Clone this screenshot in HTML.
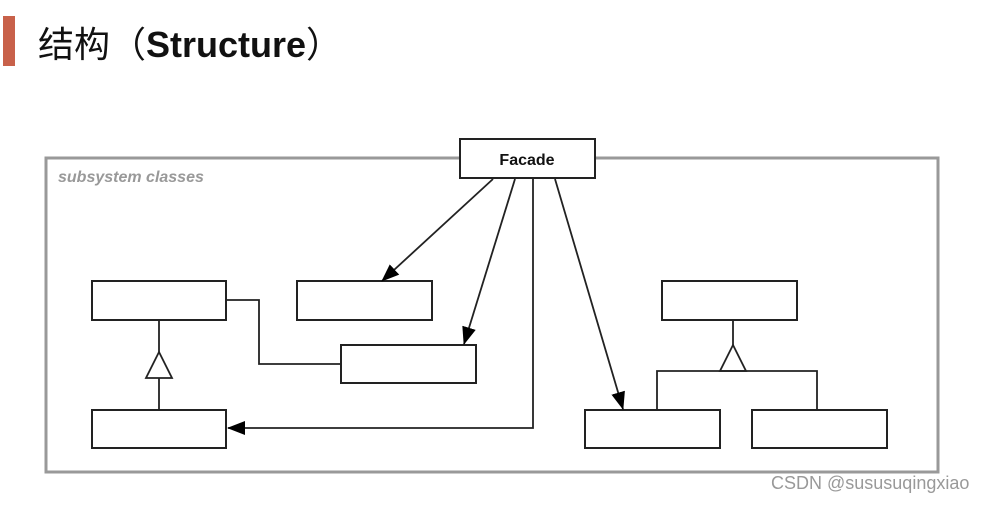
<!DOCTYPE html>
<html><head><meta charset="utf-8"><style>
body{margin:0;width:997px;height:507px;background:#fff;overflow:hidden;position:relative;font-family:"Liberation Sans","Noto Sans CJK SC",sans-serif}
.bar{position:absolute;left:3px;top:16px;width:12px;height:50px;background:#c8614a}
.t{position:absolute;left:38px;top:20px;font-size:36px;color:#111;line-height:50px}
.t b{font-weight:bold}
.wm{position:absolute;left:771px;top:473px;font-size:18px;color:#999;white-space:nowrap}
</style></head><body>
<div class="bar"></div>
<div class="t">结构（<b>Structure</b>）</div>
<svg width="997" height="507" style="position:absolute;left:0;top:0">
<defs>
<marker id="b" markerWidth="18" markerHeight="18" refX="17" refY="9" orient="auto" markerUnits="userSpaceOnUse" viewBox="0 0 18 18"><path d="M0,2 L18,9 L0,16z" fill="#000"/></marker></defs>
<rect x="46" y="158" width="892" height="314" fill="none" stroke="#999" stroke-width="3"/>
<text x="58" y="182" font-family="Liberation Sans" font-style="italic" font-weight="bold" font-size="16" fill="#999">subsystem classes</text>
<g fill="#fff" stroke="#222" stroke-width="2">
<rect x="460" y="139" width="135" height="39"/>
<rect x="92" y="281" width="134" height="39"/>
<rect x="297" y="281" width="135" height="39"/>
<rect x="341" y="345" width="135" height="38"/>
<rect x="92" y="410" width="134" height="38"/>
<rect x="662" y="281" width="135" height="39"/>
<rect x="585" y="410" width="135" height="38"/>
<rect x="752" y="410" width="135" height="38"/>
</g>
<text x="527" y="165" text-anchor="middle" font-family="Liberation Sans" font-weight="bold" font-size="16" fill="#111">Facade</text>
<g fill="none" stroke="#222" stroke-width="1.8">
<polyline points="226,300 259,300 259,364 341,364"/>
<line x1="159" y1="320" x2="159" y2="352"/>
<line x1="159" y1="378" x2="159" y2="410"/>
<polygon points="159,352 146,378 172,378" fill="#fff"/>
<line x1="733" y1="320" x2="733" y2="345"/>
<polygon points="733,345 720,371 746,371" fill="#fff"/>
<polyline points="657,410 657,371 817,371 817,410"/>
<line x1="493" y1="179" x2="382" y2="281" marker-end="url(#b)"/>
<line x1="515" y1="179" x2="464" y2="344" marker-end="url(#b)"/>
<line x1="555" y1="179" x2="623" y2="409" marker-end="url(#b)"/>
<polyline points="533,179 533,428 228,428" marker-end="url(#b)"/>
</g>
</svg>
<div class="wm">CSDN @sususuqingxiao</div>
</body></html>
